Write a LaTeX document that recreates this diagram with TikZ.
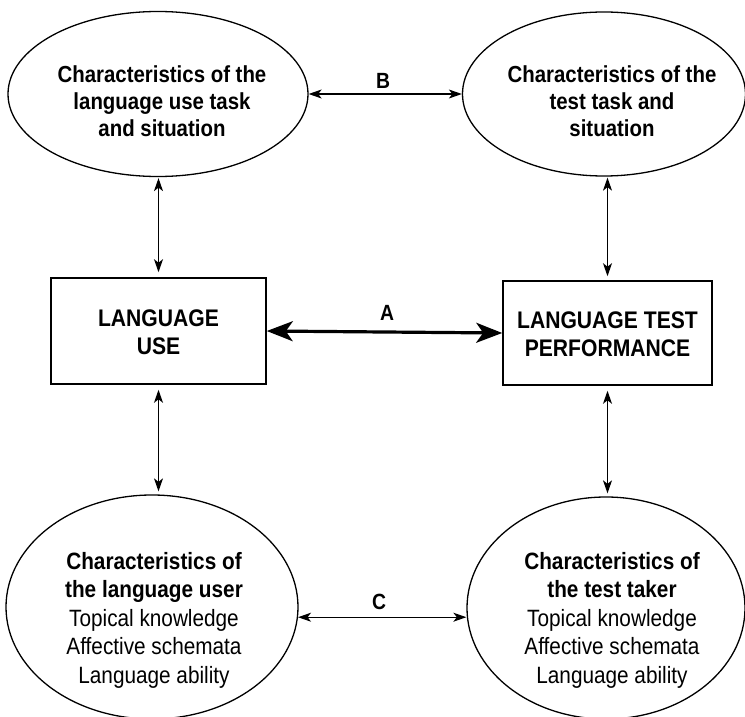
\documentclass[tikz,border=0pt]{standalone}
\usepackage{fontspec}
\setmainfont{Liberation Sans}[FakeStretch=0.88]
\usetikzlibrary{shapes.geometric,arrows.meta}
\begin{document}
\begin{tikzpicture}[x=1pt,y=-1pt,
  oval/.style={draw, line width=1.3pt, ellipse, inner sep=0pt},
  boxshape/.style={draw, line width=1.6pt, rectangle, inner sep=0pt},
  txt/.style={align=center, inner sep=0pt, font=\fontsize{23.2}{26.8}\selectfont},
  txtb/.style={align=center, inner sep=0pt, font=\fontsize{23.6}{28.5}\selectfont},
  lbl/.style={inner sep=0pt, font=\fontsize{22}{24}\selectfont\bfseries},
  thinarrow/.style={line width=1.2pt, {Stealth[length=13pt,width=9pt,inset=3.5pt]}-{Stealth[length=13pt,width=9pt,inset=3.5pt]}},
  thickarrow/.style={line width=3.2pt, {Stealth[length=26pt,width=20pt,inset=7pt]}-{Stealth[length=26pt,width=20pt,inset=7pt]}}
]
\useasboundingbox (0,0) rectangle (745,717);
\fill[white] (0,0) rectangle (745,717);

% shapes
\node[oval, minimum width=300pt, minimum height=165pt] (tl) at (158,94) {};
\node[oval, minimum width=283pt, minimum height=164pt] (tr) at (604,94) {};
\node[boxshape, minimum width=215pt, minimum height=106pt] (lu) at (158.5,331) {};
\node[boxshape, minimum width=209pt, minimum height=104pt] (rp) at (607.5,333) {};
\node[oval, minimum width=292pt, minimum height=224pt] (bl) at (152,607) {};
\node[oval, minimum width=278pt, minimum height=222pt] (br) at (606,608) {};

% texts
\node[txt] (tlt) at (162,101) {\bfseries Characteristics of the\\\bfseries language use task\\\bfseries and situation};
\node[txt] (trt) at (612,101) {\bfseries Characteristics of the\\\bfseries test task and\\\bfseries situation};
\node[txt, font=\fontsize{24}{28}\selectfont\bfseries] (lut) at (158.5,332) {LANGUAGE\\USE};
\node[txt, font=\fontsize{24}{28}\selectfont\bfseries] (rpt) at (607.5,334) {LANGUAGE TEST\\PERFORMANCE};
\node[txtb] (blt) at (154,620) {\bfseries Characteristics of\\\bfseries the language user\\Topical knowledge\\Affective schemata\\Language ability};
\node[txtb] (brt) at (612,620) {\bfseries Characteristics of\\\bfseries the test taker\\Topical knowledge\\Affective schemata\\Language ability};

% connectors
\draw[thinarrow] (tl.east) -- (tr.west);
\node[lbl] (lb) at (383,81) {B};
\draw[thickarrow] (lu.east) -- (rp.west);
\node[lbl] (la) at (387,313) {A};
\draw[thinarrow] (bl.-4) -- (bl.-4 -| br.west);
\node[lbl] (lc) at (379,602) {C};

\draw[thinarrow, shorten <=1pt, shorten >=5pt] (lu.north |- tl.south) -- (lu.north);
\draw[thinarrow, shorten <=5pt, shorten >=3pt] (lu.south) -- (lu.south |- bl.north);
\draw[thinarrow, shorten <=1pt, shorten >=4pt] (rp.north |- tr.south) -- (rp.north);
\draw[thinarrow, shorten <=5pt, shorten >=3pt] (rp.south) -- (rp.south |- br.north);
\end{tikzpicture}
\end{document}
